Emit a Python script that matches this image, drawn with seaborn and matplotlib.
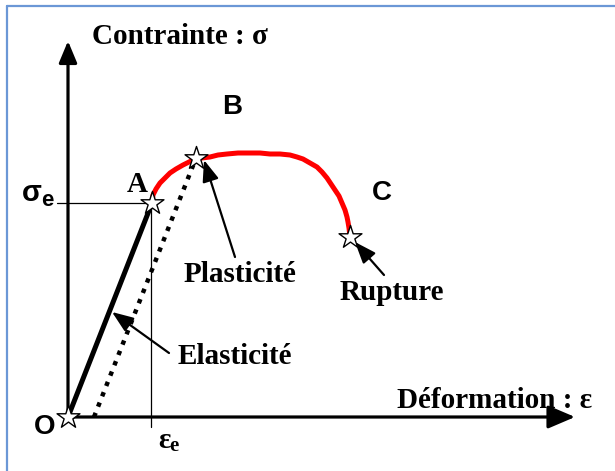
#!/usr/bin/env python3
"""Schematic stress-strain curve (traction test) with elastic / plastic zones."""

import matplotlib
matplotlib.use("Agg")
import matplotlib.pyplot as plt
import seaborn as sns

# --- data (arbitrary units: strain -> x, stress -> y) ---------------------
elastic_strain = [0, 84]
elastic_stress = [0, 214]

unload_strain = [26, 128]
unload_stress = [0, 259]

plastic_strain = [84, 85, 88, 92, 97, 102, 108, 115, 121, 127, 134, 142, 150,
                  159, 170, 182, 192, 202, 212, 222, 229, 235, 242, 249, 254,
                  259, 263, 267, 271, 274, 277, 279, 280, 281, 282]
plastic_stress = [214, 222, 228, 234, 239, 244, 248, 252, 255, 258, 259, 260,
                  262, 263, 264, 264, 264, 263, 263, 262, 260, 258, 254, 250,
                  245, 239, 233, 227, 221, 214, 207, 200, 195, 189, 180]

star_strain = [0, 84, 128, 282]
star_stress = [0, 214, 259, 180]

yield_strain = 83
yield_stress = 214

SERIF = "Liberation Serif"
SANS = "Liberation Sans"


def arrow(ax, tail, head, lw=1.6, scale=20, hl=0.65, hw=0.25):
    ax.annotate("", xy=head, xytext=tail,
                arrowprops=dict(arrowstyle=f"-|>,head_length={hl},head_width={hw}",
                                color="black", lw=lw, shrinkA=0, shrinkB=0,
                                mutation_scale=scale))


def main():
    sns.set_theme(style="white")
    fig = plt.figure(figsize=(6.15, 4.71), dpi=100)
    ax = fig.add_axes([0, 0, 1, 1])
    ax.set_xlim(-68, 547)
    ax.set_ylim(-54, 417)
    ax.axis("off")

    # frame
    ax.plot([-61, -61], [-60, 411], color="#6b97d6", lw=1.6, clip_on=False)
    ax.plot([-61, 550], [411, 411], color="#6b97d6", lw=1.6, clip_on=False)

    # axes with arrows
    arrow(ax, (0, 0), (507, 0), lw=2.3, scale=22, hl=0.75, hw=0.32)
    arrow(ax, (0, 0), (0, 376), lw=2.3, scale=22, hl=0.6, hw=0.25)

    # yield guides
    ax.plot([-11, yield_strain], [yield_stress, yield_stress], color="black", lw=0.9)
    ax.plot([yield_strain, yield_strain], [yield_stress, -10], color="black", lw=0.9)

    # curves
    sns.lineplot(x=elastic_strain, y=elastic_stress, sort=False, color="black",
                 lw=3.6, ax=ax)
    sns.lineplot(x=unload_strain, y=unload_stress, sort=False, color="black",
                 lw=3.2, dashes=False, ax=ax).lines[-1].set_dashes((1, 1.5))
    sns.lineplot(x=plastic_strain, y=plastic_stress, sort=False, color="#ff0000",
                 lw=3.6, ax=ax)
    sns.scatterplot(x=star_strain, y=star_stress, marker="*", s=300,
                    facecolor="white", edgecolor="black", linewidth=1.0,
                    zorder=5, ax=ax)

    # annotation arrows
    arrow(ax, (101, 64), (44, 105))
    arrow(ax, (167, 160), (136, 257))
    arrow(ax, (316, 142), (287, 175))

    serif = dict(family=SERIF, weight="bold", fontsize=21, ha="center",
                 va="center", color="black")
    sans = dict(family=SANS, weight="bold", fontsize=20, ha="center",
                va="center", color="black")

    ax.text(24, 380, "Contrainte : σ", **{**serif, "ha": "left"})
    ax.text(524, 16, "Déformation : ε", **{**serif, "ha": "right"})
    ax.text(172, 143, "Plasticité", **serif)
    ax.text(324, 124, "Rupture", **serif)
    ax.text(167, 61, "Elasticité", **serif)
    ax.text(69, 233, "A", **serif)

    ax.text(-36, 224, "σ", **{**sans, "fontsize": 21})
    ax.text(-21, 217, "e", **{**sans, "fontsize": 16})
    ax.text(96, -23, "ε", **serif)
    ax.text(106, -29, "e", **{**serif, "fontsize": 15})

    ax.text(164, 310, "B", **sans)
    ax.text(314, 224, "C", **sans)
    ax.text(-23, -10, "O", **sans)

    fig.savefig("out.png", dpi=100)
    plt.close(fig)


if __name__ == "__main__":
    main()
